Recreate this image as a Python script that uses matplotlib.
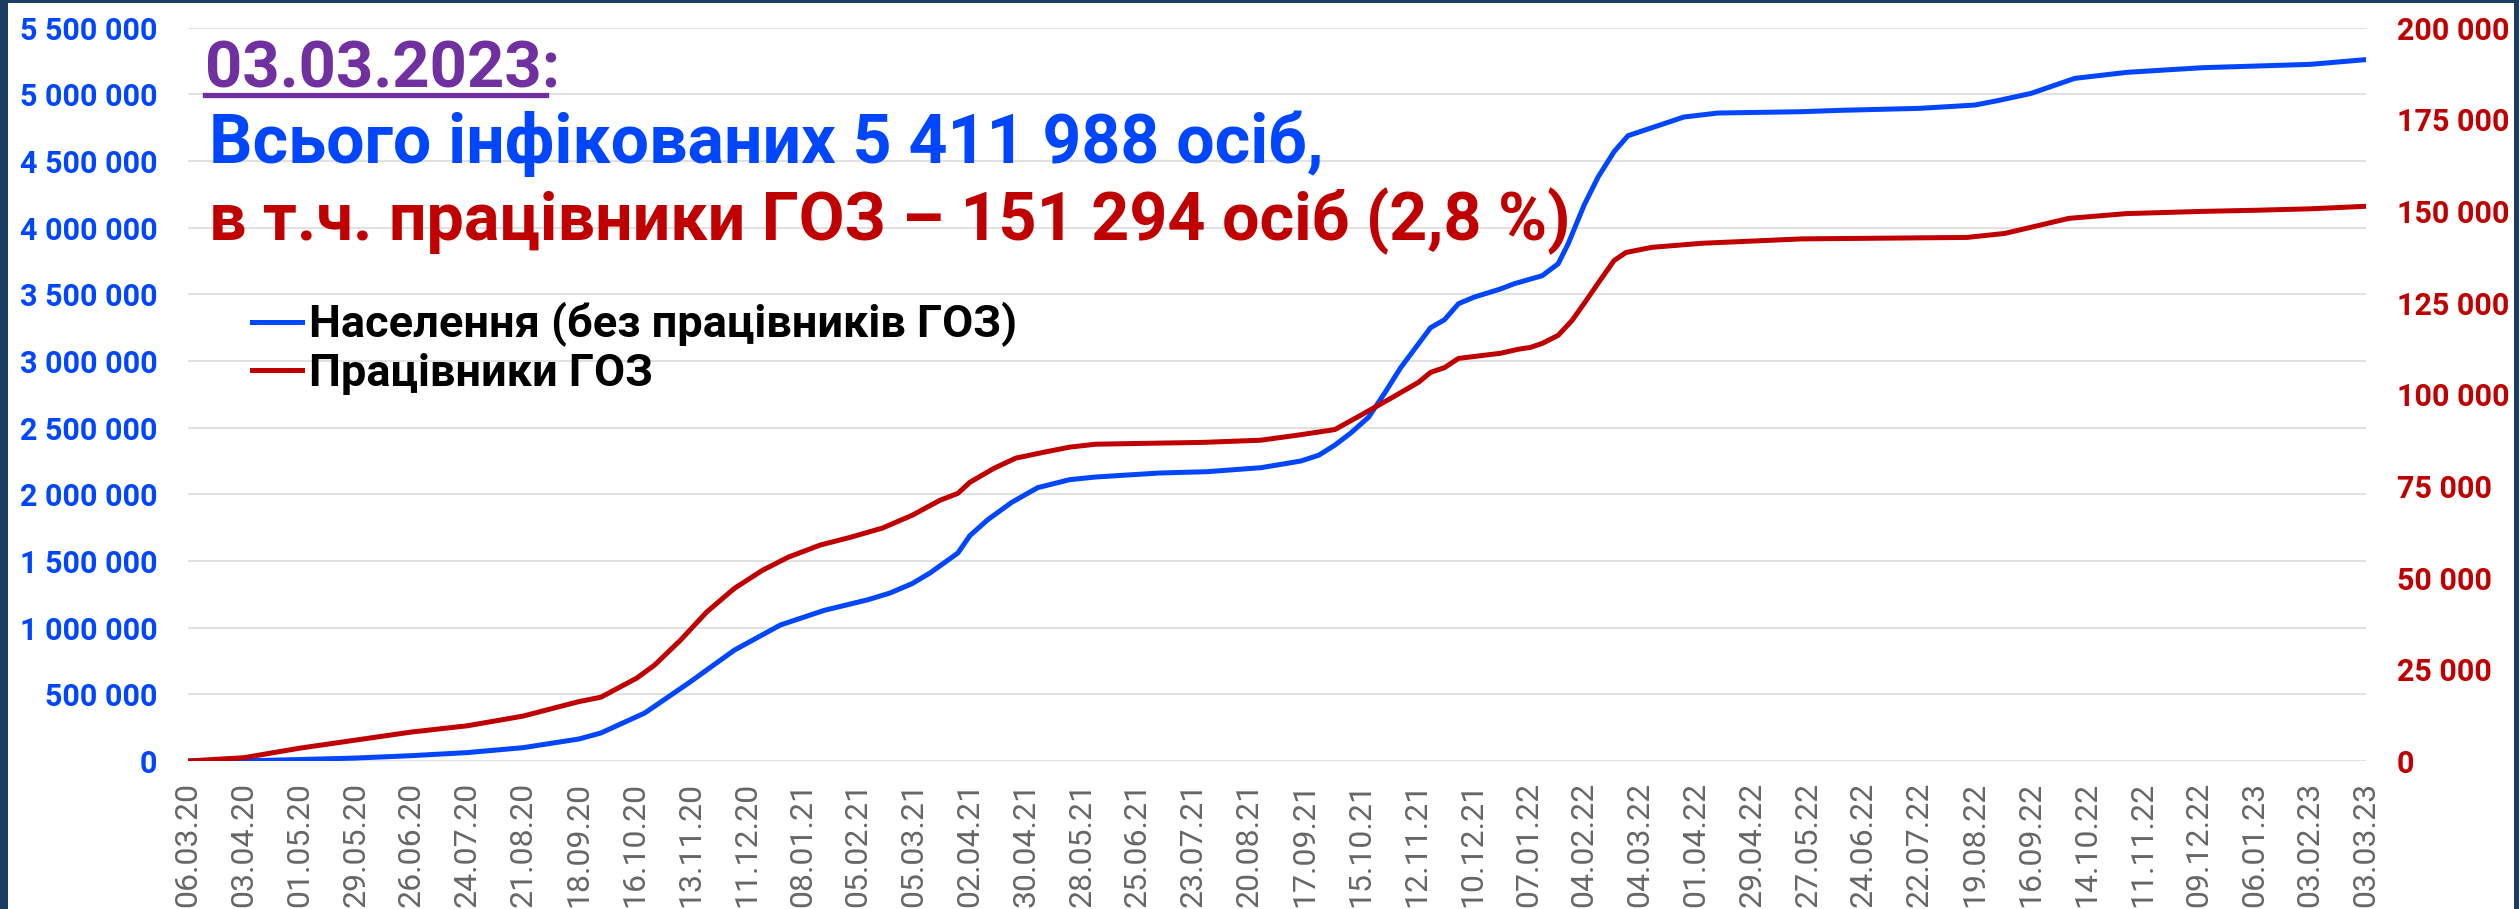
import matplotlib.pyplot as plt
import matplotlib.patches as patches
from matplotlib.lines import Line2D
from matplotlib.ticker import FuncFormatter, MultipleLocator
import pandas as pd

# days since 06.03.2020
pop_day = [0, 28, 56, 84, 112, 140, 168, 196, 207, 229, 251, 274, 297, 319, 341, 352, 363, 372,
           386, 392, 401, 413, 426, 442, 455, 487, 511, 538, 558, 567, 575, 583, 592, 600, 608,
           617, 623, 630, 637, 645, 658, 665, 672, 679, 687, 692, 700, 707, 715, 722, 734, 750,
           767, 809, 828, 868, 896, 908, 924, 946, 972, 1010, 1036, 1064, 1092]
pop_val = [0, 1100, 11000, 22000, 40000, 63000, 100000, 165000, 210000, 360000, 585000, 832000,
           1020000, 1130000, 1210000, 1260000, 1330000, 1410000, 1560000, 1690000, 1810000,
           1940000, 2050000, 2110000, 2130000, 2160000, 2170000, 2200000, 2250000, 2294000,
           2369000, 2460000, 2580000, 2760000, 2950000, 3130000, 3250000, 3310000, 3430000,
           3480000, 3540000, 3580000, 3610000, 3640000, 3730000, 3880000, 4170000, 4380000,
           4570000, 4690000, 4750000, 4830000, 4860000, 4870000, 4880000, 4895000, 4920000,
           4955000, 5007000, 5120000, 5165000, 5200000, 5212000, 5225000, 5260694]

hcw_day = [0, 28, 56, 84, 112, 140, 168, 196, 207, 225, 234, 247, 260, 274, 288, 301, 317, 332,
           348, 363, 377, 386, 392, 404, 415, 429, 442, 455, 487, 509, 538, 558, 575, 588, 603,
           617, 623, 630, 637, 658, 667, 673, 679, 687, 694, 700, 708, 715, 721, 734, 759, 809,
           892, 911, 943, 972, 1010, 1036, 1064, 1092]
hcw_val = [0, 900, 3500, 5700, 7900, 9600, 12250, 16200, 17400, 22600, 26200, 33000, 40600,
           47100, 52000, 55600, 58900, 61000, 63500, 67000, 71100, 73000, 76000, 79800, 82600,
           84200, 85600, 86400, 86700, 86900, 87500, 89000, 90400, 94300, 98900, 103300, 106000,
           107300, 109800, 111200, 112300, 112800, 113900, 116100, 120200, 124800, 131100,
           136500, 138700, 140100, 141200, 142400, 142800, 143900, 148000, 149300, 149900,
           150200, 150600, 151294]

start = pd.Timestamp("2020-03-06")
tick_step = 28
n_ticks = 40

title_date = "03.03.2023:"
title_total = "Всього інфікованих 5 411 988 осіб,"
title_hcw = "в т.ч. працівники ГОЗ – 151 294 осіб (2,8 %)"
label_pop = "Населення (без працівників ГОЗ)"
label_hcw = "Працівники ГОЗ"

BLUE = "#0046FF"
RED = "#C00000"
PURPLE = "#7030A0"

W, H = 2519, 909
plt.rcParams["font.family"] = ["Roboto", "DejaVu Sans"]

fig = plt.figure(figsize=(W / 100, H / 100), dpi=100)
fig.patch.set_facecolor("#1b3c63")
fig.patches.append(patches.Rectangle((8 / W, 0), (2514 - 8) / W, 1 - 3 / H,
                                     transform=fig.transFigure, facecolor="white",
                                     edgecolor="none", zorder=-5))

ax = fig.add_axes([188 / W, 1 - 761 / H, (2366 - 188) / W, (761 - 27.7) / H])
ax.set_facecolor("none")
ax2 = ax.twinx()

pop_x = start + pd.to_timedelta(pop_day, unit="D")
hcw_x = start + pd.to_timedelta(hcw_day, unit="D")

ax.plot(pop_x, pop_val, color=BLUE, lw=3.6, solid_capstyle="round", zorder=3)
ax2.plot(hcw_x, hcw_val, color=RED, lw=3.6, solid_capstyle="round", zorder=3)

ax.set_ylim(0, 5500000)
ax2.set_ylim(0, 200000)
ax.set_xlim(start, start + pd.Timedelta(days=tick_step * (n_ticks - 1)))

ticks = [start + pd.Timedelta(days=tick_step * i) for i in range(n_ticks)]
ax.set_xticks(ticks)
ax.set_xticklabels([t.strftime("%d.%m.%y") for t in ticks], rotation=90,
                   fontsize=23, color="#666666", fontweight="normal")

space_fmt = FuncFormatter(lambda v, p: f"{int(v):,}".replace(",", " "))
ax.yaxis.set_major_locator(MultipleLocator(500000))
ax.yaxis.set_major_formatter(space_fmt)
ax2.yaxis.set_major_locator(MultipleLocator(25000))
ax2.yaxis.set_major_formatter(space_fmt)

ax.tick_params(axis="y", length=0, pad=22, labelsize=22, labelcolor=BLUE)
ax.tick_params(axis="x", length=0, pad=15)
ax2.tick_params(axis="y", length=0, pad=22, labelsize=22, labelcolor=RED)
for lab in ax.get_yticklabels() + ax2.get_yticklabels():
    lab.set_fontweight("bold")

ax.grid(axis="y", color="#d9d9d9", lw=1.1)
ax.set_axisbelow(True)
for a in (ax, ax2):
    for s in a.spines.values():
        s.set_visible(False)

handles = [Line2D([], [], color=BLUE, lw=3.6), Line2D([], [], color=RED, lw=3.6)]
leg = ax2.legend(handles, [label_pop, label_hcw], loc="upper left",
                 bbox_to_anchor=(216 / W, 1 - 266 / H), bbox_transform=fig.transFigure,
                 frameon=False, handlelength=1.1, handletextpad=0.15, labelspacing=0.12,
                 borderpad=0.3, prop={"size": 32.5, "weight": "bold"})

fig.text(205 / W, 1 - 87 / H, title_date, fontsize=47, fontweight="bold", color=PURPLE,
         va="baseline", ha="left")
fig.add_artist(Line2D([205 / W, 546 / W], [1 - 95 / H, 1 - 95 / H], color=PURPLE, lw=3.8,
                      transform=fig.transFigure))
fig.text(209 / W, 1 - 163 / H, title_total, fontsize=49, fontweight="bold", color=BLUE,
         va="baseline", ha="left")
fig.text(209 / W, 1 - 240 / H, title_hcw, fontsize=47.8, fontweight="bold", color=RED,
         va="baseline", ha="left")

fig.savefig("out.png", dpi=100, facecolor=fig.get_facecolor())
